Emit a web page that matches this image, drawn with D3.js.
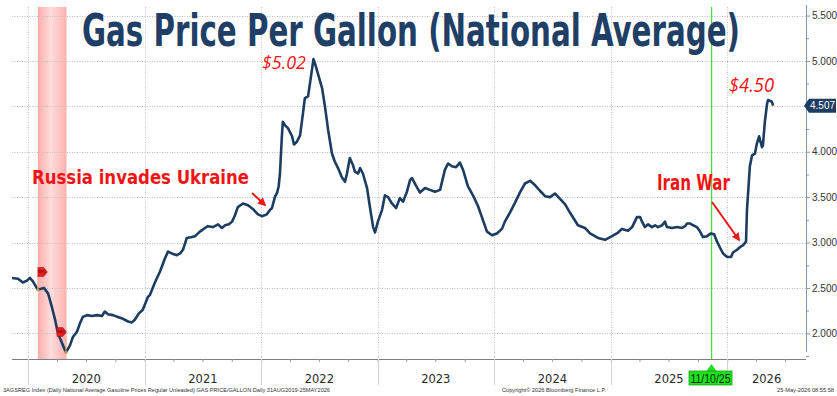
<!DOCTYPE html>
<html>
<head>
<meta charset="utf-8">
<script src="https://cdn.jsdelivr.net/npm/d3@7"></script>
<style>
  body { margin: 0; background: #fff; }
  svg { display: block; }
</style>
</head>
<body>
<svg id="chart" width="837" height="396"></svg>
<script>
// Daily national average regular gasoline price (USD per gallon), sampled
const dates = [
  "2019-11-12","2019-12-01","2019-12-16","2019-12-29","2020-01-07","2020-01-17","2020-02-01","2020-02-11",
  "2020-02-20","2020-03-04","2020-03-16","2020-03-26","2020-04-04","2020-04-17","2020-04-29","2020-05-12",
  "2020-05-21","2020-06-03","2020-06-12","2020-06-21","2020-07-04","2020-07-20","2020-08-04","2020-08-20",
  "2020-08-29","2020-09-08","2020-09-23","2020-10-09","2020-10-25","2020-11-10","2020-11-22","2020-12-01",
  "2020-12-14","2020-12-26","2021-01-11","2021-01-17","2021-02-02","2021-02-18","2021-03-06","2021-03-15",
  "2021-03-27","2021-04-12","2021-04-22","2021-05-01","2021-05-13","2021-05-29","2021-06-08","2021-06-23",
  "2021-07-09","2021-07-18","2021-08-03","2021-08-19","2021-08-31","2021-09-10","2021-09-22","2021-10-02",
  "2021-10-11","2021-10-20","2021-11-05","2021-11-21","2021-12-06","2021-12-22","2022-01-04","2022-01-19",
  "2022-01-29","2022-02-04","2022-02-13","2022-02-20","2022-02-25","2022-03-01","2022-03-07","2022-03-10",
  "2022-03-17","2022-03-26","2022-04-08","2022-04-14","2022-04-23","2022-05-03","2022-05-12","2022-05-18",
  "2022-05-28","2022-06-03","2022-06-14","2022-06-19","2022-06-28","2022-07-11","2022-07-20","2022-07-30",
  "2022-08-11","2022-08-20","2022-08-30","2022-09-11","2022-09-21","2022-09-27","2022-10-06","2022-10-16",
  "2022-10-22","2022-11-01","2022-11-07","2022-11-16","2022-11-29","2022-12-08","2022-12-18","2022-12-24",
  "2023-01-02","2023-01-15","2023-01-24","2023-02-03","2023-02-15","2023-02-28","2023-03-12","2023-03-22",
  "2023-04-03","2023-04-13","2023-04-19","2023-05-01","2023-05-14","2023-05-30","2023-06-14","2023-06-30",
  "2023-07-16","2023-07-31","2023-08-10","2023-08-22","2023-09-04","2023-09-16","2023-09-26","2023-10-11",
  "2023-10-27","2023-11-12","2023-11-27","2023-12-10","2023-12-26","2024-01-10","2024-01-26","2024-02-04",
  "2024-02-20","2024-03-07","2024-03-22","2024-04-07","2024-04-23","2024-05-09","2024-05-24","2024-06-09",
  "2024-06-25","2024-07-10","2024-07-26","2024-08-11","2024-08-26","2024-09-20","2024-10-12","2024-10-28",
  "2024-11-22","2024-12-14","2025-01-05","2025-01-24","2025-02-05","2025-02-24","2025-03-09","2025-03-24",
  "2025-04-03","2025-04-09","2025-04-18","2025-04-28","2025-05-10","2025-05-20","2025-05-29","2025-06-11",
  "2025-06-20","2025-06-26","2025-07-12","2025-07-28","2025-08-12","2025-08-22","2025-08-28","2025-09-06",
  "2025-09-16","2025-09-28","2025-10-08","2025-10-17","2025-10-30","2025-11-11","2025-11-21","2025-11-30",
  "2025-12-10","2025-12-19","2026-01-01","2026-01-13","2026-01-19","2026-02-01","2026-02-10","2026-02-20",
  "2026-03-01","2026-03-04","2026-03-13","2026-03-20","2026-03-29","2026-04-04","2026-04-11","2026-04-20",
  "2026-04-23","2026-04-29","2026-05-06","2026-05-09","2026-05-21","2026-05-25"
];
const prices = [
  2.61,2.60,2.56,2.58,2.61,2.57,2.48,2.49,
  2.50,2.44,2.29,2.15,2.00,1.89,1.79,1.87,
  1.96,2.02,2.11,2.18,2.20,2.19,2.20,2.19,
  2.24,2.21,2.20,2.18,2.16,2.13,2.12,2.15,
  2.22,2.26,2.40,2.42,2.56,2.68,2.83,2.90,
  2.88,2.86,2.88,2.92,3.05,3.06,3.07,3.12,
  3.16,3.18,3.17,3.20,3.16,3.19,3.20,3.23,
  3.30,3.39,3.43,3.41,3.37,3.31,3.29,3.31,
  3.36,3.38,3.50,3.55,3.62,3.76,4.17,4.33,
  4.29,4.26,4.17,4.08,4.11,4.18,4.42,4.59,
  4.61,4.75,5.02,4.97,4.86,4.70,4.50,4.24,
  3.98,3.89,3.82,3.72,3.67,3.76,3.93,3.85,
  3.78,3.76,3.82,3.76,3.60,3.39,3.17,3.11,
  3.23,3.36,3.52,3.50,3.43,3.38,3.49,3.45,
  3.56,3.69,3.71,3.63,3.55,3.60,3.58,3.56,
  3.58,3.80,3.87,3.84,3.83,3.88,3.80,3.62,
  3.52,3.40,3.25,3.12,3.08,3.10,3.15,3.23,
  3.33,3.44,3.55,3.65,3.68,3.63,3.57,3.51,
  3.50,3.54,3.48,3.42,3.33,3.19,3.16,3.10,
  3.05,3.03,3.07,3.11,3.15,3.13,3.17,3.28,
  3.28,3.23,3.17,3.20,3.17,3.19,3.17,3.19,
  3.23,3.17,3.16,3.17,3.16,3.18,3.21,3.21,
  3.19,3.17,3.12,3.06,3.07,3.10,3.09,3.01,
  2.94,2.88,2.84,2.84,2.89,2.92,2.95,2.97,
  3.01,3.36,3.84,3.96,3.98,4.09,4.17,4.05,
  4.07,4.33,4.53,4.57,4.55,4.507
];

// Axis ticks and labels
const yLabelTicks = [2.0, 2.5, 3.0, 3.5, 4.0, 5.0, 5.5];
const yGridTicks = [2.0, 2.5, 3.0, 3.5, 4.0, 4.5, 5.0, 5.5];
const yMinorTicks = [1.75, 2.25, 2.75, 3.25, 3.75, 4.25, 4.75, 5.25];
const years = ["2020", "2021", "2022", "2023", "2024", "2025", "2026"];

// Events
const recessionSpan = ["2020-02-01", "2020-05-01"];
const markerDate = "2025-11-10";
const markerLabel = "11/10/25";
const peakLabel = "$5.02";
const lastLabel = "$4.50";

(function draw() {
  const lastValue = prices[prices.length - 1];
  const parse = d3.utcParse("%Y-%m-%d");
  const series = dates.map((d, i) => ({ date: parse(d), value: prices[i] }));

  const svg = d3.select("#chart");
  const plotLeft = 12, plotRight = 806, plotTop = 5, plotBottom = 359;

  const x = d3.scaleUtc()
    .domain([parse("2019-11-12"), parse("2026-09-05")])
    .range([plotLeft, plotRight]);
  const y = d3.scaleLinear()
    .domain([1.717, 5.616])
    .range([plotBottom, plotTop]);

  const navy = "#1d3c61";
  const red = "#f21414";
  const green = "#39e639";

  // recession shading
  const defs = svg.append("defs");
  const grad = defs.append("linearGradient").attr("id", "recGrad")
    .attr("x1", "0%").attr("x2", "100%").attr("y1", "0%").attr("y2", "0%");
  grad.append("stop").attr("offset", "0%").attr("stop-color", "#ffacac");
  grad.append("stop").attr("offset", "45%").attr("stop-color", "#ffdcdc");
  grad.append("stop").attr("offset", "100%").attr("stop-color", "#ffb2b2");

  defs.append("marker").attr("id", "arrowHead")
    .attr("viewBox", "0 0 10 10").attr("refX", 8).attr("refY", 5)
    .attr("markerWidth", 4.2).attr("markerHeight", 4.2).attr("orient", "auto")
    .append("path").attr("d", "M0,0 L10,5 L0,10 Z").attr("fill", red);

  svg.append("rect")
    .attr("x", x(parse(recessionSpan[0])))
    .attr("y", 7)
    .attr("width", x(parse(recessionSpan[1])) - x(parse(recessionSpan[0])))
    .attr("height", plotBottom - 7)
    .attr("fill", "url(#recGrad)");

  // horizontal gridlines
  svg.append("g").selectAll("line").data(yGridTicks).join("line")
    .attr("x1", plotLeft).attr("x2", plotRight)
    .attr("y1", d => Math.round(y(d)) + 0.5).attr("y2", d => Math.round(y(d)) + 0.5)
    .attr("stroke", "#bdbdbd").attr("stroke-width", 1)
    .attr("stroke-dasharray", "1,1.5");

  // vertical gridlines at year starts
  const yearStarts = years.map(yr => parse(yr + "-01-01"));
  svg.append("g").selectAll("line").data(yearStarts).join("line")
    .attr("x1", d => Math.round(x(d)) + 0.5).attr("x2", d => Math.round(x(d)) + 0.5)
    .attr("y1", 7).attr("y2", plotBottom)
    .attr("stroke", "#c4c4c4").attr("stroke-width", 1)
    .attr("stroke-dasharray", "1,1.5");

  // event date line
  const mx = Math.round(x(parse(markerDate)));
  svg.append("rect")
    .attr("x", mx).attr("y", 7).attr("width", 1.2).attr("height", plotBottom - 7)
    .attr("fill", green);

  // x axis: quarterly ticks, year separators, year labels
  const xAxis = svg.append("g").attr("transform", `translate(0,${plotBottom})`)
    .call(d3.axisBottom(x).ticks(d3.utcMonth.every(3)).tickSize(3).tickFormat(""));
  xAxis.selectAll(".tick text").remove();
  xAxis.select(".domain").attr("stroke", "#7f7f7f")
    .attr("d", `M${plotLeft},0.5H${plotRight}`);
  xAxis.selectAll(".tick line").attr("stroke", "#9a9a9a");

  svg.append("g").selectAll("line").data(yearStarts).join("line")
    .attr("x1", d => Math.round(x(d)) + 0.5).attr("x2", d => Math.round(x(d)) + 0.5)
    .attr("y1", plotBottom).attr("y2", plotBottom + 26)
    .attr("stroke", "#d2d2d2").attr("stroke-width", 1);

  svg.append("g").selectAll("text").data(years).join("text")
    .attr("x", yr => {
      const a = Math.max(plotLeft, x(parse(yr + "-01-01")));
      const b = Math.min(plotRight, x(parse((+yr + 1) + "-01-01")));
      return (a + b) / 2;
    })
    .attr("y", 383)
    .attr("text-anchor", "middle")
    .attr("font-family", "'DejaVu Sans', sans-serif")
    .attr("font-size", 11.5)
    .attr("fill", "#2a2a2a")
    .text(yr => yr);

  // right value axis
  const yAxis = svg.append("g").attr("transform", `translate(${plotRight},0)`)
    .call(d3.axisRight(y).tickValues(yLabelTicks).tickSize(4).tickPadding(2)
      .tickFormat(d3.format(".3f")));
  yAxis.select(".domain").attr("stroke", "#8096b0").attr("d", "M0.5,5V352");
  yAxis.selectAll(".tick line").attr("stroke", "#8096b0");
  yAxis.selectAll(".tick text")
    .attr("font-family", "'Liberation Sans', Arial, sans-serif")
    .attr("font-size", 10).attr("fill", "#333");
  const minor = svg.append("g").attr("transform", `translate(${plotRight},0)`)
    .call(d3.axisRight(y).tickValues(yMinorTicks).tickSize(3).tickFormat(""));
  minor.select(".domain").remove();
  minor.selectAll(".tick text").remove();
  minor.selectAll(".tick line").attr("stroke", "#8096b0");

  // price line
  const line = d3.line().x(d => x(d.date)).y(d => y(d.value));
  svg.append("path").datum(series)
    .attr("d", line)
    .attr("fill", "none")
    .attr("stroke", navy)
    .attr("stroke-width", 2.6)
    .attr("stroke-linejoin", "round");

  // recession event flags
  const recFlags = [
    { date: recessionSpan[0], fy: 272, anchor: "start" },
    { date: "2020-04-29", fy: 332, anchor: "end" }
  ];
  recFlags.forEach(f => {
    const d = series.find(s => +s.date === +parse(f.date));
    const px = x(parse(f.date));
    const py = y(d ? d.value : 2);
    const fx = f.anchor === "start" ? px : px - 9;
    svg.append("line").attr("x1", px).attr("x2", px).attr("y1", f.fy + 4).attr("y2", py)
      .attr("stroke", "#d9b36a").attr("stroke-width", 0.8);
    svg.append("circle").attr("cx", px).attr("cy", py).attr("r", 1.6).attr("fill", "#c9a24e");
    svg.append("path")
      .attr("d", `M${fx},${f.fy - 4.5}h6l3.5,4.5l-3.5,4.5h-6z`)
      .attr("fill", "#e01f1f").attr("stroke", "#b01010").attr("stroke-width", 0.5);
    svg.append("text").attr("x", fx + 4.5).attr("y", f.fy + 1.3)
      .attr("text-anchor", "middle").attr("font-size", 3.6)
      .attr("font-family", "'Liberation Sans', Arial, sans-serif")
      .attr("fill", "#5a0000").text("REC");
  });

  // last value tag
  const ty = y(lastValue);
  svg.append("path")
    .attr("d", `M${plotRight - 2},${ty}L${plotRight + 3},${ty - 7}H836V${ty + 7}H${plotRight + 3}Z`)
    .attr("fill", navy);
  svg.append("text")
    .attr("x", plotRight + 4).attr("y", ty + 3.6)
    .attr("font-family", "'Liberation Sans', Arial, sans-serif")
    .attr("font-size", 10).attr("fill", "#fff")
    .text(d3.format(".3f")(lastValue));

  // event date label
  svg.append("path")
    .attr("d", `M${mx + 0.5},364L${mx + 5.5},371H${mx - 4.5}Z`)
    .attr("fill", "#22dd22");
  svg.append("rect")
    .attr("x", 689).attr("y", 371).attr("width", 43).attr("height", 14)
    .attr("fill", "#1fe01f").attr("stroke", "#11a811").attr("stroke-width", 0.8);
  svg.append("text")
    .attr("x", 710.5).attr("y", 382.5).attr("text-anchor", "middle")
    .attr("font-family", "'Liberation Sans', Arial, sans-serif")
    .attr("font-size", 12).attr("fill", "#0b2a0b")
    .attr("textLength", 40).attr("lengthAdjust", "spacingAndGlyphs")
    .text(markerLabel);

  // title
  svg.append("text")
    .attr("x", 82).attr("y", 46)
    .attr("font-family", "'Liberation Sans Narrow', 'Arial Narrow', 'DejaVu Sans Condensed', sans-serif")
    .attr("font-weight", "bold")
    .attr("font-size", 45)
    .attr("fill", "#1f3f66")
    .attr("textLength", 658).attr("lengthAdjust", "spacingAndGlyphs")
    .text("Gas Price Per Gallon (National Average)");

  // annotations
  const annoFont = "'Liberation Sans Narrow', 'Arial Narrow', 'DejaVu Sans Condensed', sans-serif";
  svg.append("text")
    .attr("x", 32).attr("y", 184)
    .attr("font-family", annoFont).attr("font-weight", "bold").attr("font-size", 20)
    .attr("fill", red)
    .attr("textLength", 217).attr("lengthAdjust", "spacingAndGlyphs")
    .text("Russia invades Ukraine");
  svg.append("text")
    .attr("x", 657).attr("y", 190)
    .attr("font-family", annoFont).attr("font-weight", "bold").attr("font-size", 21)
    .attr("fill", red)
    .attr("textLength", 73).attr("lengthAdjust", "spacingAndGlyphs")
    .text("Iran War");

  svg.append("text")
    .attr("x", 262).attr("y", 69)
    .attr("font-family", "'Open Sans', 'Liberation Sans', sans-serif")
    .attr("font-style", "italic").attr("font-size", 18)
    .attr("fill", red)
    .attr("textLength", 44).attr("lengthAdjust", "spacingAndGlyphs")
    .text(peakLabel);
  svg.append("text")
    .attr("x", 729).attr("y", 92)
    .attr("font-family", "'Open Sans', 'Liberation Sans', sans-serif")
    .attr("font-style", "italic").attr("font-size", 20)
    .attr("fill", red)
    .attr("textLength", 45).attr("lengthAdjust", "spacingAndGlyphs")
    .text(lastLabel);

  svg.append("line")
    .attr("x1", 252).attr("y1", 193).attr("x2", 265).attr("y2", 205)
    .attr("stroke", red).attr("stroke-width", 2)
    .attr("marker-end", "url(#arrowHead)");
  svg.append("line")
    .attr("x1", 712).attr("y1", 202).attr("x2", 739).attr("y2", 240)
    .attr("stroke", red).attr("stroke-width", 2)
    .attr("marker-end", "url(#arrowHead)");

  // footer
  const footFont = "'Liberation Sans', Arial, sans-serif";
  svg.append("text")
    .attr("x", 3).attr("y", 392).attr("font-family", footFont).attr("font-size", 6.2)
    .attr("fill", "#333").attr("textLength", 327).attr("lengthAdjust", "spacingAndGlyphs")
    .text("3AGSREG Index (Daily National Average Gasoline Prices Regular Unleaded) GAS PRICE/GALLON Daily 31AUG2019-25MAY2026");
  svg.append("text")
    .attr("x", 502).attr("y", 392).attr("font-family", footFont).attr("font-size", 6.2)
    .attr("fill", "#333").attr("textLength", 104).attr("lengthAdjust", "spacingAndGlyphs")
    .text("Copyright\u00a9 2026 Bloomberg Finance L.P.");
  svg.append("text")
    .attr("x", 777).attr("y", 392).attr("font-family", footFont)
    .attr("font-size", 6.2).attr("fill", "#333")
    .attr("textLength", 57).attr("lengthAdjust", "spacingAndGlyphs")
    .text("25-May-2026 08:55:58");
})();
</script>
</body>
</html>
